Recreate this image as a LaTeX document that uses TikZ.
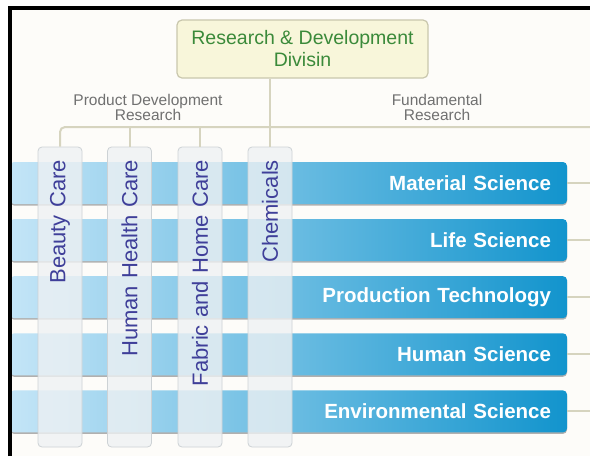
\documentclass[tikz,border=0pt]{standalone}
\usepackage{fontspec}
\setmainfont{Liberation Sans}
\usepackage{xcolor}
\usepackage{tikz}
\usetikzlibrary{positioning,shadows}

\definecolor{bgpaper}{HTML}{FDFCF9}
\definecolor{linkline}{HTML}{D6D4BF}
\definecolor{headfill}{HTML}{F8F6DA}
\definecolor{headdraw}{HTML}{C9C7AD}
\definecolor{headtext}{HTML}{3B8A3A}
\definecolor{grouptext}{HTML}{707070}
\definecolor{coltext}{HTML}{3F3F99}
\definecolor{barleft}{HTML}{C4E5F7}
\definecolor{barmid}{HTML}{48AFDF}
\definecolor{barright}{HTML}{1294CD}
\definecolor{colfill}{HTML}{EEF1F3}
\definecolor{coldraw}{HTML}{CDD2D5}

\begin{document}
\begin{tikzpicture}[x=1pt,y=-1pt,
  link/.style={draw=linkline,line width=2pt},
  headbox/.style={draw=headdraw,line width=1.2pt,fill=headfill,rounded corners=5pt,
    minimum width=251pt,minimum height=58pt,align=center,text=headtext,
    font=\fontsize{19.5}{22}\selectfont},
  group/.style={align=center,text=grouptext,font=\fontsize{15.5}{15}\selectfont},
  bar/.style={rounded corners=4pt,left color=barleft,middle color=barmid,right color=barright,
    minimum width=557pt,minimum height=42pt,inner xsep=16pt,text width=525pt,align=right,
    text=white,font=\bfseries\fontsize{20.5}{24}\selectfont,
    drop shadow={shadow xshift=0pt,shadow yshift=-1.5pt,opacity=0.4,fill=black!75}},
  colbox/.style={rotate=90,draw=coldraw,line width=0.8pt,fill=colfill,fill opacity=0.8,
    text opacity=1,rounded corners=4pt,minimum width=300pt,minimum height=44pt,
    inner xsep=13pt,text width=274pt,align=right,text=coltext,
    font=\fontsize{22}{26}\selectfont}]
 \useasboundingbox[fill=bgpaper] (0,0) rectangle (590,456);
 \fill[white] (0,0) rectangle (590,8);
 \fill[white] (0,0) rectangle (10,456);
 % head of the division
 \node[headbox] (rd) at (302.5,49) {Research \& Development\\Divisin};
 \coordinate (j) at (270,127);
 \coordinate (rt) at (590,127);
 \node[group] (pdr) at (148,107) {Product Development\\Research};
 \node[group] (fr) at (437,107) {Fundamental\\Research};
 % fundamental research bars
 \foreach \i/\n in {0/Material Science,1/Life Science,2/Production Technology,3/Human Science,4/Environmental Science} {
   \node[bar] (b\i) at (288.5,183+57.1*\i) {\n};
   \draw[link] (b\i.east) -- (b\i.east -| rt);
 }
 % product development columns
 \foreach \i/\x/\n in {1/60/Beauty Care,2/129.5/Human Health Care,3/200/Fabric and Home Care,4/270/Chemicals}
   \node[colbox] (c\i) at (\x,297) {\n};
 \draw[link] (j |- rd.south) -- (j);
 \draw[link,rounded corners=5pt] (c1.east) |- (rt);
 \foreach \i in {2,3,4} \draw[link] (c\i.east) -- (c\i.east |- rt);
 \draw[line width=4pt] (10,456) -- (10,8) -- (590,8);
\end{tikzpicture}
\end{document}
